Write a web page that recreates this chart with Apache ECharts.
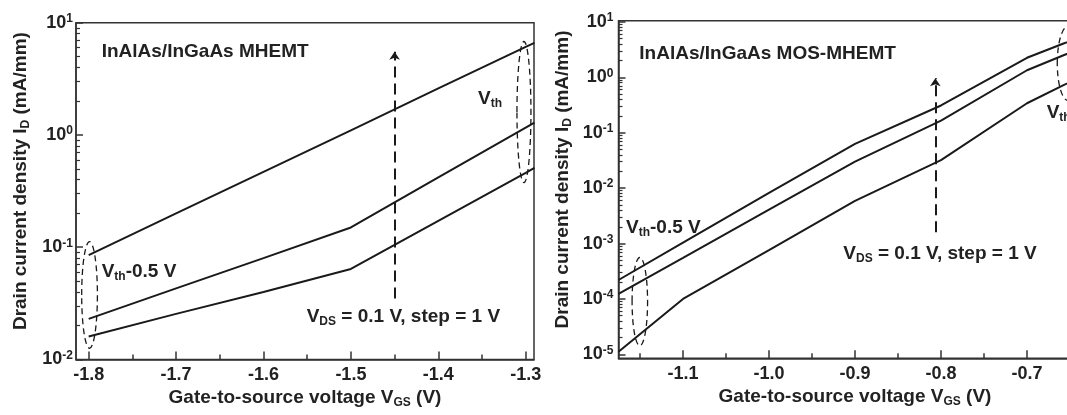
<!DOCTYPE html>
<html>
<head>
<meta charset="utf-8">
<script src="https://cdn.jsdelivr.net/npm/echarts@6/dist/echarts.min.js"></script>
<style>
  html, body { margin: 0; padding: 0; background: #fff; }
  #chart { width: 1067px; height: 415px; }
</style>
</head>
<body>
<div id="chart"></div>
<script>
// left panel: InAlAs/InGaAs MHEMT
const vgsMhemt = [-1.8, -1.7, -1.6, -1.5, -1.4, -1.3, -1.29];
const idMhemtHigh = [0.085, 0.2, 0.47, 1.1, 2.6, 6.1, 6.6];
const idMhemtMid = [0.023, 0.043, 0.08, 0.15, 0.42, 1.16, 1.29];
const idMhemtLow = [0.016, 0.0255, 0.04, 0.064, 0.172, 0.46, 0.51];

// right panel: InAlAs/InGaAs MOS-MHEMT
const vgsMos = [-1.175, -1.1, -1.0, -0.9, -0.8, -0.7, -0.6575, -0.64];
const idMosHigh = [2.2e-4, 1.04e-3, 8.2e-3, 0.063, 0.31, 2.25, 4.07, 5.1];
const idMosMid = [1.23e-4, 5.5e-4, 4.1e-3, 0.03, 0.165, 1.34, 2.5, 3.2];
const idMosLow = [1.12e-5, 1.0e-4, 7.6e-4, 5.9e-3, 0.032, 0.34, 0.72, 0.98];

// tick values
const mhemtXLabels = [-1.8, -1.7, -1.6, -1.5, -1.4, -1.3];
const mhemtXMinor = [-1.75, -1.65, -1.55, -1.45, -1.35];
const mosXLabels = [-1.1, -1.0, -0.9, -0.8, -0.7];
const mosXMinor = [-1.15, -1.05, -0.95, -0.85, -0.75, -0.65];
const mhemtYDecades = [0.01, 0.1, 1, 10];
const mosYDecades = [1e-5, 1e-4, 1e-3, 0.01, 0.1, 1, 10];

// annotations: arrow [vgs, from, to]; ellipses [vgs, top, bottom, half width in V]
const mhemtArrow = [-1.45, 0.035, 5.5];
const mosArrow = [-0.8066, 1.6e-3, 0.96];
const mhemtEllipses = [[-1.799, 0.112, 0.0126, 0.009], [-1.302, 6.8, 0.376, 0.008]];
const mosEllipses = [[-1.1502, 5.6e-4, 1.43e-5, 0.009], [-0.652, 8.4, 0.38, 0.0128]];

const FONT = '"Liberation Sans", Arial, sans-serif';
const INK = '#222';
const LINE = '#1a1a1a';
const AXIS = '#333';

const minorOf = decades => decades.flatMap(d => [2, 3, 4, 5, 6, 7, 8, 9].map(m => +(m * d).toPrecision(3)));

const richText = {
  a: { fontSize: 19, fontWeight: 'bold', fontFamily: FONT, color: INK, lineHeight: 22 },
  s: { fontSize: 12, fontWeight: 'bold', fontFamily: FONT, color: INK, lineHeight: 4, verticalAlign: 'bottom' }
};
const supRich = {
  b: { fontSize: 18, fontWeight: 'bold', fontFamily: FONT, color: INK, lineHeight: 20 },
  s: { fontSize: 12, fontWeight: 'bold', fontFamily: FONT, color: INK, lineHeight: 9, verticalAlign: 'top' }
};

const chart = echarts.init(document.getElementById('chart'));

// major and minor ticks sit on two overlapping axes so they can have different lengths
function xMajor(grid, min, max, labels) {
  return {
    type: 'value', gridIndex: grid, min: min, max: max, position: 'bottom',
    name: '{a|Gate-to-source voltage V}{s|GS}{a| (V)}',
    nameLocation: 'middle', nameGap: 27, nameMoveOverlap: false,
    nameTextStyle: { rich: richText },
    axisLine: { show: true, lineStyle: { color: AXIS, width: 1.5 } },
    axisTick: { show: true, inside: true, length: 8, customValues: labels, lineStyle: { color: AXIS, width: 1.5 } },
    axisLabel: { customValues: labels, margin: 7, formatter: v => v.toFixed(1),
      fontSize: 18, fontWeight: 'bold', fontFamily: FONT, color: INK },
    splitLine: { show: false }
  };
}
function xMinor(grid, min, max, ticks) {
  return {
    type: 'value', gridIndex: grid, min: min, max: max, position: 'bottom',
    axisLine: { show: false },
    axisTick: { show: true, inside: true, length: 5, customValues: ticks, lineStyle: { color: AXIS, width: 1.5 } },
    axisLabel: { show: false }, splitLine: { show: false }
  };
}
function yMajor(grid, min, max, decades, gap, margin) {
  return {
    type: 'log', logBase: 10, gridIndex: grid, min: min, max: max, position: 'left',
    name: '{a|Drain current density I}{s|D}{a| (mA/mm)}',
    nameLocation: 'middle', nameRotate: 90, nameGap: gap, nameMoveOverlap: false,
    nameTextStyle: { rich: richText, padding: [0, 0, 0, 20] },
    axisLine: { show: true, lineStyle: { color: AXIS, width: 1.5 } },
    axisTick: { show: true, inside: true, length: 7, customValues: decades, lineStyle: { color: AXIS, width: 1.5 } },
    axisLabel: { customValues: decades, margin: margin,
      formatter: v => '{b|10}{s|' + Math.round(Math.log10(v)) + '}', rich: supRich },
    splitLine: { show: false }
  };
}
function yMinor(grid, min, max, decades) {
  return {
    type: 'log', logBase: 10, gridIndex: grid, min: min, max: max, position: 'left',
    axisLine: { show: false },
    axisTick: { show: true, inside: true, length: 4, customValues: minorOf(decades), lineStyle: { color: AXIS, width: 1.2 } },
    axisLabel: { show: false }, splitLine: { show: false }
  };
}

function curve(xs, ys, xi, yi, extra) {
  return Object.assign({
    type: 'line', xAxisIndex: xi, yAxisIndex: yi, symbol: 'none', silent: true,
    data: xs.map((x, i) => [x, ys[i]]),
    lineStyle: { color: LINE, width: 2 }
  }, extra || {});
}
function arrow(a) {
  return {
    silent: true, symbol: ['none', 'arrow'], symbolSize: 8,
    label: { show: false },
    lineStyle: { color: LINE, width: 2, type: [11, 6] },
    data: [[{ coord: [a[0], a[1]] }, { coord: [a[0], a[2]] }]]
  };
}
function ellipses(data, xi, yi) {
  return {
    type: 'custom', xAxisIndex: xi, yAxisIndex: yi, silent: true, clip: false,
    data: data,
    renderItem: (params, api) => {
      const top = api.coord([api.value(0), api.value(1)]);
      const bot = api.coord([api.value(0), api.value(2)]);
      const side = api.coord([api.value(0) + api.value(3), api.value(1)]);
      return {
        type: 'ellipse',
        shape: { cx: top[0], cy: (top[1] + bot[1]) / 2, rx: side[0] - top[0], ry: (bot[1] - top[1]) / 2 },
        style: { fill: 'none', stroke: LINE, lineWidth: 1.3, lineDash: [6, 4] }
      };
    }
  };
}
function note(x, y, text) {
  return { type: 'text', x: x, y: y, silent: true,
    style: { text: text, rich: richText, align: 'left', verticalAlign: 'middle', fill: INK,
      font: 'bold 19px ' + FONT } };
}

const mhemtX = [-1.8145, -1.2905];
const mosX = [-1.175, -0.625];
const mhemtY = [0.01, 10];
const mosY = [8.5e-6, 10.5];

const option = {
  animation: false,
  backgroundColor: '#fff',
  grid: [
    { left: 76, top: 22.7, width: 458, height: 336.8, show: true, borderColor: AXIS, borderWidth: 1.5, containLabel: false, outerBoundsMode: 'none' },
    { left: 618.5, top: 20.7, width: 473, height: 337.6, show: true, borderColor: AXIS, borderWidth: 1.5, containLabel: false, outerBoundsMode: 'none' }
  ],
  xAxis: [
    xMajor(0, mhemtX[0], mhemtX[1], mhemtXLabels),
    xMinor(0, mhemtX[0], mhemtX[1], mhemtXMinor),
    xMajor(1, mosX[0], mosX[1], mosXLabels),
    xMinor(1, mosX[0], mosX[1], mosXMinor)
  ],
  yAxis: [
    yMajor(0, mhemtY[0], mhemtY[1], mhemtYDecades, 44, 3),
    yMinor(0, mhemtY[0], mhemtY[1], mhemtYDecades),
    yMajor(1, mosY[0], mosY[1], mosYDecades, 45, 5),
    yMinor(1, mosY[0], mosY[1], mosYDecades)
  ],
  series: [
    curve(vgsMhemt, idMhemtHigh, 0, 0, { markLine: arrow(mhemtArrow) }),
    curve(vgsMhemt, idMhemtMid, 0, 0),
    curve(vgsMhemt, idMhemtLow, 0, 0),
    ellipses(mhemtEllipses, 0, 0),
    curve(vgsMos, idMosHigh, 2, 2, { markLine: arrow(mosArrow) }),
    curve(vgsMos, idMosMid, 2, 2),
    curve(vgsMos, idMosLow, 2, 2),
    ellipses(mosEllipses, 2, 2)
  ],
  graphic: [
    note(101.7, 51.7, '{a|InAlAs/InGaAs MHEMT}'),
    note(101.7, 271.7, '{a|V}{s|th}{a|-0.5 V}'),
    note(478, 99, '{a|V}{s|th}'),
    note(306.7, 317, '{a|V}{s|DS}{a| = 0.1 V, step = 1 V}'),
    note(639.3, 54, '{a|InAlAs/InGaAs MOS-MHEMT}'),
    note(626, 227.5, '{a|V}{s|th}{a|-0.5 V}'),
    note(843.3, 254, '{a|V}{s|DS}{a| = 0.1 V, step = 1 V}'),
    note(1046.7, 112.7, '{a|V}{s|th}')
  ]
};

chart.setOption(option);
</script>
</body>
</html>
